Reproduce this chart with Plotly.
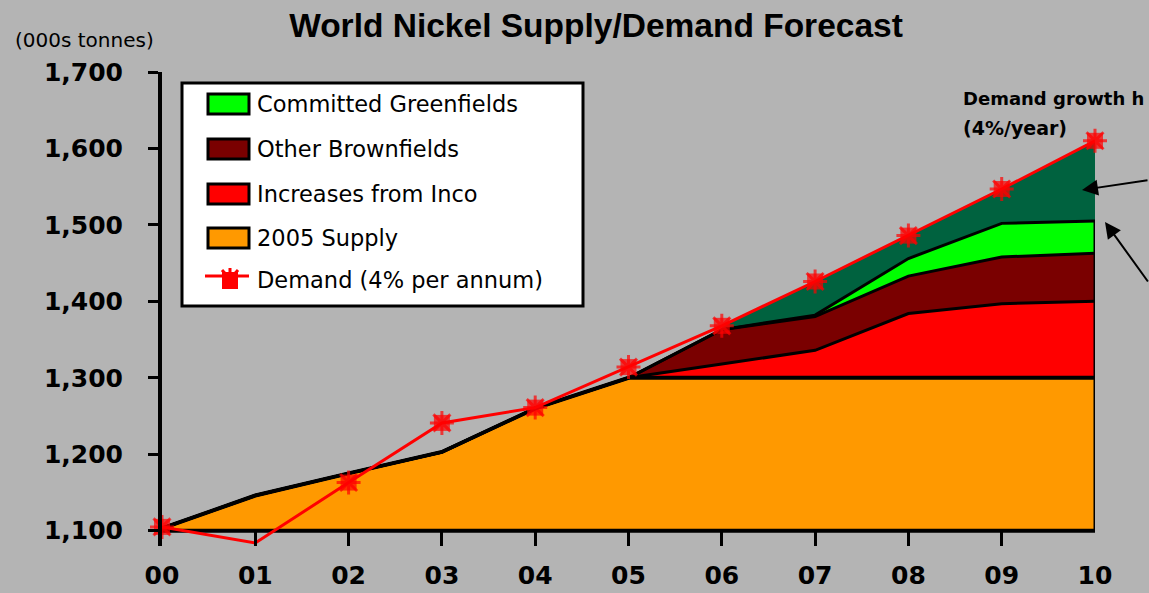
import plotly.graph_objects as go
import numpy as np

# ---------------- data ----------------
years = ['00', '01', '02', '03', '04', '05', '06', '07', '08', '09', '10']
supply_2005 = [1103, 1146, 1175, 1203, 1260, 1300, 1300, 1300, 1300, 1300, 1300]
inco_increase = [0, 0, 0, 0, 0, 0, 18, 36, 84, 97, 100]
other_brownfields = [0, 0, 0, 0, 0, 0, 45, 44, 49, 61, 63]
committed_greenfields = [0, 0, 0, 0, 0, 0, 0, 2, 23, 44, 42]
demand = [1105, 1084, 1163, 1241, 1261, 1314, 1368, 1426, 1486, 1547, 1610]
series_names = ['Committed Greenfields', 'Other Brownfields', 'Increases from Inco',
                '2005 Supply', 'Demand (4% per annum)']
y_ticks = [1100, 1200, 1300, 1400, 1500, 1600, 1700]
base_level = 1100
gap_start = 6  # index where demand-growth gap area starts

# ---------------- styling ----------------
BG = '#B4B4B4'
ORANGE = '#FF9900'
RED = '#FF0000'
MAROON = '#7A0000'
GREEN = '#00FF00'
DKGREEN = '#00623F'

c1 = np.array(supply_2005, dtype=float)
c2 = c1 + np.array(inco_increase)
c3 = c2 + np.array(other_brownfields)
c4 = c3 + np.array(committed_greenfields)

fig = go.Figure()
# demand-growth gap (dark green) drawn first, stack covers its lower part
fig.add_trace(go.Scatter(x=years[gap_start:], y=[base_level] * len(years[gap_start:]),
                         mode='lines', line=dict(width=0), hoverinfo='skip', showlegend=False))
fig.add_trace(go.Scatter(x=years[gap_start:], y=demand[gap_start:], mode='lines',
                         line=dict(width=0), fill='tonexty', fillcolor=DKGREEN,
                         hoverinfo='skip', showlegend=False))
# baseline (x axis line at 1,100)
fig.add_trace(go.Scatter(x=years, y=[base_level] * len(years), mode='lines',
                         line=dict(color='black', width=4), hoverinfo='skip', showlegend=False))
fig.add_trace(go.Scatter(x=years, y=c1, mode='lines', name=series_names[3],
                         line=dict(color='black', width=4), fill='tonexty', fillcolor=ORANGE,
                         showlegend=False))
fig.add_trace(go.Scatter(x=years, y=c2, mode='lines', name=series_names[2],
                         line=dict(color='black', width=3), fill='tonexty', fillcolor=RED,
                         showlegend=False))
fig.add_trace(go.Scatter(x=years, y=c3, mode='lines', name=series_names[1],
                         line=dict(color='black', width=3), fill='tonexty', fillcolor=MAROON,
                         showlegend=False))
fig.add_trace(go.Scatter(x=years, y=c4, mode='lines', name=series_names[0],
                         line=dict(color='black', width=3), fill='tonexty', fillcolor=GREEN,
                         showlegend=False))
# demand line
msize = [16 if v >= base_level else 0 for v in demand]
asize = [20 if v >= base_level else 0 for v in demand]
fig.add_trace(go.Scatter(x=years, y=demand, mode='markers', hoverinfo='skip',
                         marker=dict(symbol='asterisk-open', size=asize, color=RED,
                                     line=dict(color=RED, width=3)),
                         cliponaxis=False, showlegend=False))
fig.add_trace(go.Scatter(x=years, y=demand, mode='lines+markers', name=series_names[4],
                         line=dict(color=RED, width=3),
                         marker=dict(symbol='square', size=msize, color=RED,
                                     line=dict(width=0)),
                         cliponaxis=False, showlegend=False))

# ---------------- layout ----------------
W, H = 1149, 593
L, R, T, B = 162, 1095, 72, 546
PW, PH = R - L, B - T


def pxx(v):
    return (v - L) / PW


def pxy(v):
    return (B - v) / PH


shapes = []
# right edge of the supply stack
shapes.append(dict(type='line', xref='x', yref='y', x0=years[-1], x1=years[-1],
                   y0=base_level, y1=float(c4[-1]), line=dict(color='black', width=3),
                   layer='above'))

# manual legend
shapes.append(dict(type='rect', xref='paper', yref='paper', x0=pxx(182), x1=pxx(583),
                   y0=pxy(83), y1=pxy(306), fillcolor='white',
                   line=dict(color='black', width=3), layer='above'))
row_y = [104, 149, 194, 238, 280]
sw_colors = [GREEN, MAROON, RED, ORANGE]
annotations = []
for i, col in enumerate(sw_colors):
    shapes.append(dict(type='rect', xref='paper', yref='paper', x0=pxx(208), x1=pxx(249),
                       y0=pxy(row_y[i] - 10), y1=pxy(row_y[i] + 10), fillcolor=col,
                       line=dict(color='black', width=3), layer='above'))
for i, name in enumerate(series_names):
    annotations.append(dict(xref='paper', yref='paper', x=pxx(255), y=pxy(row_y[i]),
                            xanchor='left', yanchor='middle', text=name, showarrow=False,
                            font=dict(family='DejaVu Sans', size=22.5, color='black')))
# demand legend symbol
shapes.append(dict(type='line', xref='paper', yref='paper', x0=pxx(205), x1=pxx(249),
                   y0=pxy(276), y1=pxy(276), line=dict(color=RED, width=3), layer='above'))
shapes.append(dict(type='rect', xref='paper', yref='paper', x0=pxx(222), x1=pxx(238),
                   y0=pxy(272), y1=pxy(289), fillcolor=RED, line=dict(color=RED, width=0),
                   layer='above'))
for dx0, dy0 in [(-8, -9), (0, -11), (8, -9)]:
    shapes.append(dict(type='line', xref='paper', yref='paper', x0=pxx(230), x1=pxx(230 + dx0),
                       y0=pxy(279), y1=pxy(279 + dy0), line=dict(color=RED, width=3),
                       layer='above'))

# texts
annotations.append(dict(xref='paper', yref='paper', x=pxx(84), y=pxy(40), text='(000s tonnes)',
                        showarrow=False, xanchor='center', yanchor='middle',
                        font=dict(family='DejaVu Sans', size=20, color='black')))
annotations.append(dict(xref='paper', yref='paper', x=pxx(961), y=pxy(98), text='Demand growth h',
                        showarrow=False, xanchor='left', yanchor='middle',
                        font=dict(family='DejaVu Sans', size=18, color='black', weight='bold')))
annotations.append(dict(xref='paper', yref='paper', x=pxx(961), y=pxy(128), text='(4%/year)',
                        showarrow=False, xanchor='left', yanchor='middle',
                        font=dict(family='DejaVu Sans', size=19, color='black', weight='bold')))
# arrows
annotations.append(dict(xref='paper', yref='paper', x=pxx(1082), y=pxy(190), text='',
                        showarrow=True, ax=80, ay=-10, arrowhead=2, arrowsize=1.6,
                        arrowwidth=2, arrowcolor='black'))
annotations.append(dict(xref='paper', yref='paper', x=pxx(1105), y=pxy(222), text='',
                        showarrow=True, ax=60, ay=61, arrowhead=2, arrowsize=1.6,
                        arrowwidth=2, arrowcolor='black'))

fig.update_layout(
    width=W, height=H,
    margin=dict(l=L, r=W - R, t=T, b=H - B, pad=0, autoexpand=False),
    paper_bgcolor=BG, plot_bgcolor=BG,
    title=dict(text='World Nickel Supply/Demand Forecast', x=596 / W, xref='container',
               xanchor='center', y=1 - 25 / H, yref='container', yanchor='middle',
               automargin=False,
               font=dict(family='Liberation Sans', size=33.5, color='black', weight='bold')),
    shapes=shapes, annotations=annotations,
    showlegend=False,
    xaxis=dict(type='category', categoryorder='array', categoryarray=years, automargin=False,
               range=[0, len(years) - 1], showgrid=False, zeroline=False, showline=False,
               ticks='inside', ticklen=15, tickwidth=3, tickcolor='black',
               tickvals=years, ticktext=years, ticklabelstandoff=12,
               tickfont=dict(family='DejaVu Sans', size=25, color='black', weight='bold')),
    yaxis=dict(range=[1080, 1700], showgrid=False, zeroline=False, showline=True,
               automargin=False,
               linewidth=4, linecolor='black', ticks='outside', ticklen=10, tickwidth=3,
               tickcolor='black', tickvals=y_ticks, tickformat=',d', ticklabelstandoff=20,
               tickfont=dict(family='DejaVu Sans', size=25, color='black', weight='bold')),
)

fig.write_html('out.html')
